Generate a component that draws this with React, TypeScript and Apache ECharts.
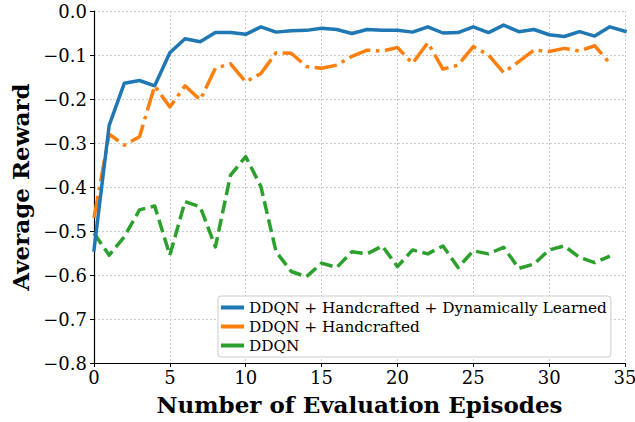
import React, { useEffect, useRef } from "react";
import * as echarts from "echarts";

const episodes: number[] = Array.from({ length: 36 }, (_, i) => i);

const fullValues: number[] = [
  -0.543, -0.26, -0.164, -0.158, -0.17, -0.095, -0.063, -0.07, -0.049, -0.049,
  -0.053, -0.036, -0.048, -0.045, -0.044, -0.039, -0.042, -0.051, -0.042, -0.044,
  -0.044, -0.048, -0.036, -0.05, -0.049, -0.036, -0.049, -0.032, -0.047, -0.042,
  -0.054, -0.058, -0.047, -0.057, -0.036, -0.046,
];

const handcraftedValues: number[] = [
  -0.47, -0.28, -0.305, -0.286, -0.17, -0.218, -0.17, -0.202, -0.13, -0.12,
  -0.161, -0.142, -0.095, -0.096, -0.126, -0.13, -0.123, -0.103, -0.089, -0.091,
  -0.083, -0.119, -0.072, -0.132, -0.123, -0.081, -0.1, -0.14, -0.115, -0.089,
  -0.092, -0.085, -0.091, -0.079, -0.119,
];

const ddqnValues: number[] = [
  -0.505, -0.555, -0.513, -0.452, -0.443, -0.555, -0.433, -0.445, -0.536, -0.373,
  -0.331, -0.399, -0.547, -0.592, -0.604, -0.573, -0.583, -0.547, -0.552, -0.534,
  -0.581, -0.543, -0.552, -0.534, -0.583, -0.545, -0.552, -0.537, -0.585, -0.575,
  -0.543, -0.534, -0.56, -0.572, -0.557,
];

const seriesNames: string[] = [
  "DDQN + Handcrafted + Dynamically Learned",
  "DDQN + Handcrafted",
  "DDQN",
];

const FONT = "DejaVu Serif";

export default function App() {
  const ref = useRef<HTMLDivElement>(null);
  useEffect(() => {
    if (!ref.current) return;
    const chart = echarts.init(ref.current, undefined, { renderer: "svg" });
    const pair = (vals: number[]) => vals.map((v, i) => [episodes[i], v]);
    chart.setOption({
      animation: false,
      backgroundColor: "#ffffff",
      grid: { left: 94, right: 10, top: 11, bottom: 59, containLabel: false, outerBoundsMode: "none" },
      xAxis: {
        type: "value",
        min: 0,
        max: 35,
        interval: 5,
        name: "Number of Evaluation Episodes",
        nameLocation: "middle",
        nameGap: 30,
        nameTextStyle: { fontFamily: FONT, fontWeight: "bold", fontSize: 23, color: "#000" },
        axisLine: { show: true, onZero: false, lineStyle: { color: "#000", width: 1.2 } },
        axisTick: { show: true, length: 4, lineStyle: { color: "#000" } },
        axisLabel: { fontFamily: FONT, fontSize: 18, color: "#000", margin: 5 },
        splitLine: { show: true, lineStyle: { color: "#cccccc", type: [2, 2], width: 1 } },
      },
      yAxis: {
        type: "value",
        min: -0.8,
        max: 0,
        interval: 0.1,
        name: "Average Reward",
        nameLocation: "middle",
        nameGap: 62,
        nameTextStyle: { fontFamily: FONT, fontWeight: "bold", fontSize: 23, color: "#000" },
        axisLine: { show: true, onZero: false, lineStyle: { color: "#000", width: 1.2 } },
        axisTick: { show: true, length: 4, lineStyle: { color: "#000" } },
        axisLabel: {
          fontFamily: FONT,
          fontSize: 18,
          color: "#000",
          margin: 7,
          formatter: (v: number) => {
            const s = Math.abs(v).toFixed(1);
            return v < -1e-9 ? "\u2212" + s : s;
          },
        },
        splitLine: { show: true, lineStyle: { color: "#cccccc", type: [2, 2], width: 1 } },
      },
      legend: {
        left: 218,
        top: 296,
        orient: "vertical",
        backgroundColor: "#fff",
        borderColor: "#cccccc",
        borderWidth: 1,
        borderRadius: 3,
        padding: [4, 4, 4, 3],
        itemGap: 4,
        itemWidth: 23,
        itemHeight: 4,
        icon: "rect",
        textStyle: { fontFamily: FONT, fontSize: 15.3, color: "#000", padding: [0, 0, 0, 0] },
        data: seriesNames.map((n) => ({ name: n })),
      },
      series: [
        {
          name: seriesNames[0],
          type: "line",
          data: pair(fullValues),
          showSymbol: false,
          symbol: "none",
          color: "#1f77b4",
          lineStyle: { width: 3.5, color: "#1f77b4", cap: "square", join: "round" },
          z: 4,
        },
        {
          name: seriesNames[1],
          type: "line",
          data: pair(handcraftedValues),
          showSymbol: false,
          symbol: "none",
          color: "#ff7f0e",
          lineStyle: { width: 3.5, color: "#ff7f0e", type: [22.4, 5.6, 3.5, 5.6], cap: "butt", join: "round" },
          z: 3,
        },
        {
          name: seriesNames[2],
          type: "line",
          data: pair(ddqnValues),
          showSymbol: false,
          symbol: "none",
          color: "#2ca02c",
          lineStyle: { width: 3.5, color: "#2ca02c", type: [13, 5.6], cap: "butt", join: "round" },
          z: 2,
        },
      ],
    });
    return () => chart.dispose();
  }, []);
  return <div ref={ref} style={{ width: 635, height: 422, position: "absolute", left: 0, top: 0 }} />;
}
